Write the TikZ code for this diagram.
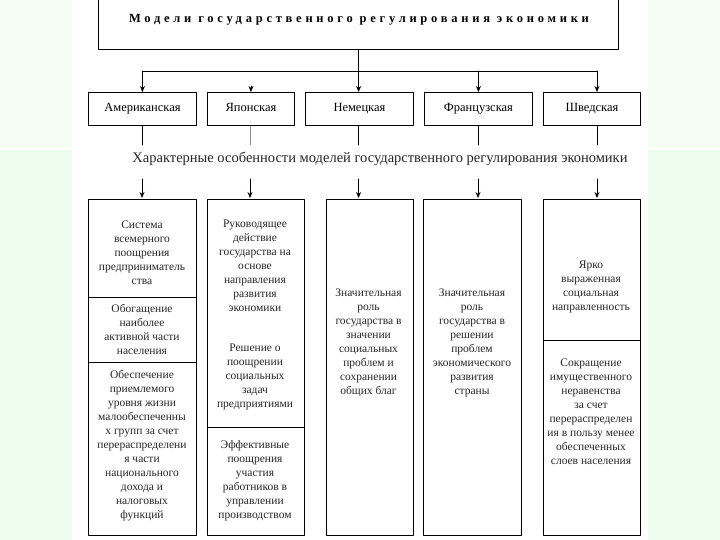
\documentclass[tikz,border=0pt]{standalone}
\usepackage{fontspec}
\setmainfont{Liberation Serif}
\usetikzlibrary{arrows.meta}

\begin{document}
\begin{tikzpicture}[x=1pt,y=-1pt,line cap=round,line join=round,>={Stealth[length=6pt,width=5pt]},
  every node/.style={inner sep=1pt},
  box/.style={draw,line width=0.9pt,anchor=north west,inner sep=0pt},
  head/.style={box,minimum height=33pt,text height=9pt,text depth=3pt,font=\fontsize{12.5}{14}\selectfont},
  txt/.style={align=center,font=\fontsize{11.5}{14}\selectfont,text=black!85},
  link/.style={line width=0.7pt}]
  \useasboundingbox (0,0) rectangle (720,540);
  % backdrop
  \fill[black!6!green!4!white] (0,0) rectangle (720,148);
  \fill[black!13!green!7!white] (0,150) rectangle (720,540);
  \fill[white] (72,0) rectangle (648,540);
  % title
  \node[box,minimum width=520pt,minimum height=54pt] (title) at (98,-5) {};
  \node[font=\fontsize{12.5}{14}\bfseries\addfontfeatures{LetterSpace=30}] (titletxt) at (359,20) {Модели государственного регулирования экономики};
  % models
  \node[head,minimum width=108pt] (am) at (88,92) {Американская};
  \node[head,minimum width=87pt] (jp) at (207,92) {Японская};
  \node[head,minimum width=108pt] (de) at (305,92) {Немецкая};
  \node[head,minimum width=108pt] (fr) at (424,92) {Французская};
  \node[head,minimum width=97pt] (sw) at (543,92) {Шведская};
  \coordinate (bus) at (358.6,71);
  \coordinate (busend) at (597,71);
  \coordinate (swin) at (597,92);
  \draw[link] (title.south -| bus) -- (bus);
  \draw[link] (am.north |- bus) -- (busend);
  \draw[link,->] (bus) -- (de.north -| bus);
  \draw[link,->] (am.north |- bus) -- (am.north);
  \draw[link,->] (fr.north |- bus) -- (fr.north);
  \draw[link,->] (busend) -- (swin);
  \draw[link,->] (jp.north) ++(0,-6) -- (jp.north);
  % features
  \node[font=\fontsize{14.5}{16}\selectfont,text=black!85] (feat) at (380,159) {Характерные особенности моделей государственного регулирования экономики};
  \foreach \px in {142,358.6,478,597}
    \draw[link] (\px,126) -- (\px,145);
  \draw[link,black!45,line width=0.5pt] (250,126) -- (250,145);
  \foreach \px in {142,250,358.6,478,597}
    \draw[link,->] (\px,179) -- (\px,198);
  % american
  \node[box,minimum width=108pt,minimum height=98pt] (am1) at (88,199) {};
  \node[box,minimum width=108pt,minimum height=65pt] (am2) at (88,297) {};
  \node[box,minimum width=108pt,minimum height=173pt] (am3) at (88,362) {};
  \node[txt] (am1t) at (142,253) {Система\\всемерного\\поощрения\\предприниматель\\ства};
  \node[txt] (am2t) at (142,329) {Обогащение\\наиболее\\активной части\\населения};
  \node[txt] (am3t) at (142,446) {Обеспечение\\приемлемого\\уровня жизни\\малообеспеченны\\х групп за счет\\перераспределени\\я части\\национального\\дохода и\\налоговых\\функций};
  % japanese
  \node[box,minimum width=97pt,minimum height=228pt] (jp1) at (207,199) {};
  \node[box,minimum width=97pt,minimum height=108pt] (jp2) at (207,427) {};
  \node[txt] (jp1t) at (255,266) {Руководящее\\действие\\государства на\\основе\\направления\\развития\\экономики};
  \node[txt] (jp2t) at (255,377) {Решение о\\поощрении\\социальных\\задач\\предприятиями};
  \node[txt] (jp3t) at (255,481) {Эффективные\\поощрения\\участия\\работников в\\управлении\\производством};
  % german
  \node[box,minimum width=87pt,minimum height=336pt] (de1) at (325.5,199) {};
  \node[txt] (de1t) at (368.5,343) {Значительная\\роль\\государства в\\значении\\социальных\\проблем и\\сохранении\\общих благ};
  % french
  \node[box,minimum width=97.5pt,minimum height=336pt] (fr1) at (423,199) {};
  \node[txt] (fr1t) at (472,343) {Значительная\\роль\\государства в\\решении\\проблем\\экономического\\развития\\страны};
  % swedish
  \node[box,minimum width=97pt,minimum height=141pt] (sw1) at (542.7,199) {};
  \node[box,minimum width=97pt,minimum height=195pt] (sw2) at (542.7,340) {};
  \node[txt] (sw1t) at (591,287) {Ярко\\выраженная\\социальная\\направленность};
  \node[txt] (sw2t) at (591,412) {Сокращение\\имущественного\\неравенства\\за счет\\перераспределен\\ия в пользу менее\\обеспеченных\\слоев населения};
\end{tikzpicture}
\end{document}
